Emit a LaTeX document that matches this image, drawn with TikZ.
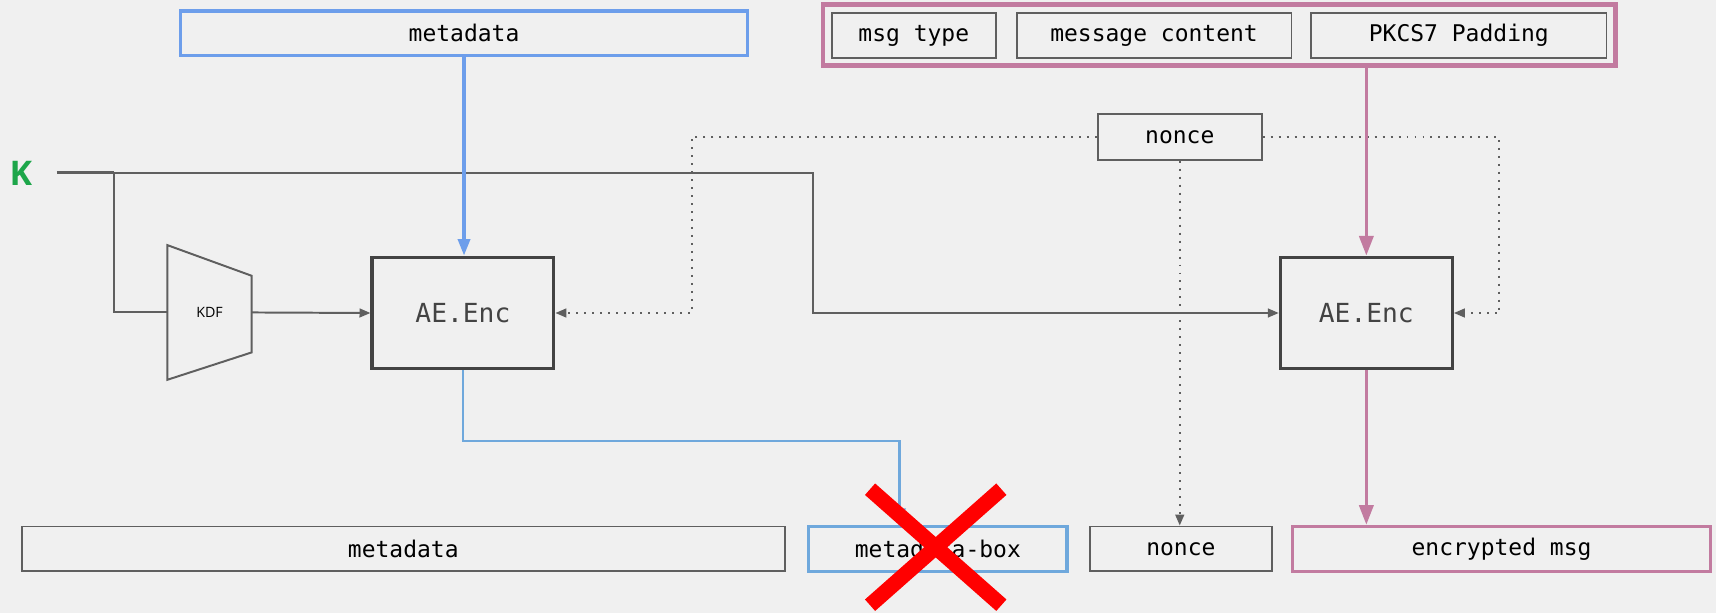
\documentclass[tikz,border=0pt]{standalone}
\usepackage{fontspec}
\setmonofont{DejaVu Sans Mono}
\setsansfont{Open Sans}
\usetikzlibrary{arrows.meta, positioning, calc}

\definecolor{bg}{HTML}{F0F0F0}
\definecolor{linegray}{HTML}{5F5F5F}
\definecolor{encgray}{HTML}{434343}
\definecolor{topblue}{HTML}{6D9EEB}
\definecolor{lowblue}{HTML}{6FA8DC}
\definecolor{msgpink}{HTML}{C27BA0}
\definecolor{kgreen}{HTML}{1DA64A}

\tikzset{
  field/.style={draw=linegray, line width=1.6pt, minimum height=41pt, inner sep=0pt,
    font=\ttfamily\fontsize{21}{24}\selectfont},
  encbox/.style={draw=encgray, line width=3pt, minimum height=102pt, inner sep=0pt,
    text=encgray, font=\ttfamily\fontsize{24}{28}\selectfont},
  wire/.style={draw=linegray, line width=1.8pt},
  nwire/.style={wire, dash pattern=on 1.8pt off 5.5pt},
  bwire/.style={draw=lowblue, line width=2.6pt},
  pwire/.style={draw=msgpink, line width=3pt},
  garr/.style={-{Triangle[length=10pt, width=8pt]}},
  barr/.style={-{Triangle[length=15pt, width=11pt]}},
  parr/.style={-{Triangle[length=18pt, width=13pt]}}
}

\begin{document}
\begin{tikzpicture}[x=1pt, y=-1pt]
\useasboundingbox[fill=bg] (0,0) rectangle (1568,560);

% ------------------------------------------------------------------
% inputs on top
% ------------------------------------------------------------------
\node[field, draw=topblue, line width=3pt, minimum width=518pt] (mdtop) at (424,30.5) {metadata};

\node[draw=msgpink, line width=4pt, minimum width=724pt, minimum height=56pt, inner sep=0pt] (msg) at (1114,32) {};
\node[field, minimum width=150pt] (msgtype) at (835,32.5) {msg type};
\node[field, minimum width=251pt] (content) at (1054.5,32.5) {message content};
\node[field, minimum width=270pt] (padding) at (1333,32.5) {PKCS7 Padding};

\node[field, minimum width=150pt, minimum height=42pt] (nonce) at (1078,125) {nonce};

% key
\node[font=\sffamily\bfseries\fontsize{31}{34}\selectfont, text=kgreen] (K) at (19,158) {K};
\coordinate (kstart) at (52,158);
\coordinate (ksplit) at (104,158);
\coordinate (kturn) at (743,158);

% ------------------------------------------------------------------
% KDF and the two encryptions
% ------------------------------------------------------------------
\draw[wire] (153,224) -- (230,252) -- (230,322) -- (153,347) -- cycle;
\node[font=\sffamily\fontsize{13}{15}\selectfont] (kdf) at (191.5,285.5) {KDF};
\coordinate (kdfin) at (153,285.5);
\coordinate (kdfout) at (230,285.5);

\node[encbox, minimum width=166pt] (enc1) at (423,286) {AE.Enc};
\node[encbox, minimum width=157pt] (enc2) at (1248.5,286) {AE.Enc};

% ------------------------------------------------------------------
% output row
% ------------------------------------------------------------------
\node[field, minimum width=697pt] (mdbot) at (368.5,501.5) {metadata};
\node[field, draw=lowblue, line width=3pt, minimum width=236pt] (mdbox) at (857,501.5) {metadata-box};
\node[field, minimum width=166pt] (noncebot) at (1079,501.5) {nonce};
\node[field, draw=msgpink, line width=3pt, minimum width=382pt] (encmsg) at (1372,501.5) {encrypted msg};

% ------------------------------------------------------------------
% wiring
% ------------------------------------------------------------------
\draw[wire, line width=2.6pt] (kstart) -- (ksplit);
\draw[wire] (ksplit) |- (kdfin);
\draw[wire, garr] (ksplit) -- (kturn) |- (enc2.west);
\draw[wire, garr] (kdfout) -- (enc1.west);

\coordinate (nleft) at (632,125);
\coordinate (nright) at (1370,125);
\draw[nwire, garr] (nonce.west) -- (nleft) |- (enc1.east);
\draw[nwire, garr] (nonce.east) -- (nright) |- (enc2.east);
\draw[nwire, garr] (nonce.south) -- (nonce.south |- noncebot.north);

\draw[draw=topblue, line width=3pt, barr] (mdtop.south) -- (mdtop.south |- enc1.north);
\draw[pwire, parr] (msg.south -| enc2.north) -- (enc2.north);

\coordinate (bturn) at (822,403);
\draw[bwire, barr] (enc1.south) |- (bturn) -- (bturn |- mdbox.north);
\draw[pwire, parr] (enc2.south) -- (enc2.south |- encmsg.north);

% struck out
\draw[red, line width=14pt] (795,447) -- (915,553) (915,447) -- (795,553);

\end{tikzpicture}
\end{document}
